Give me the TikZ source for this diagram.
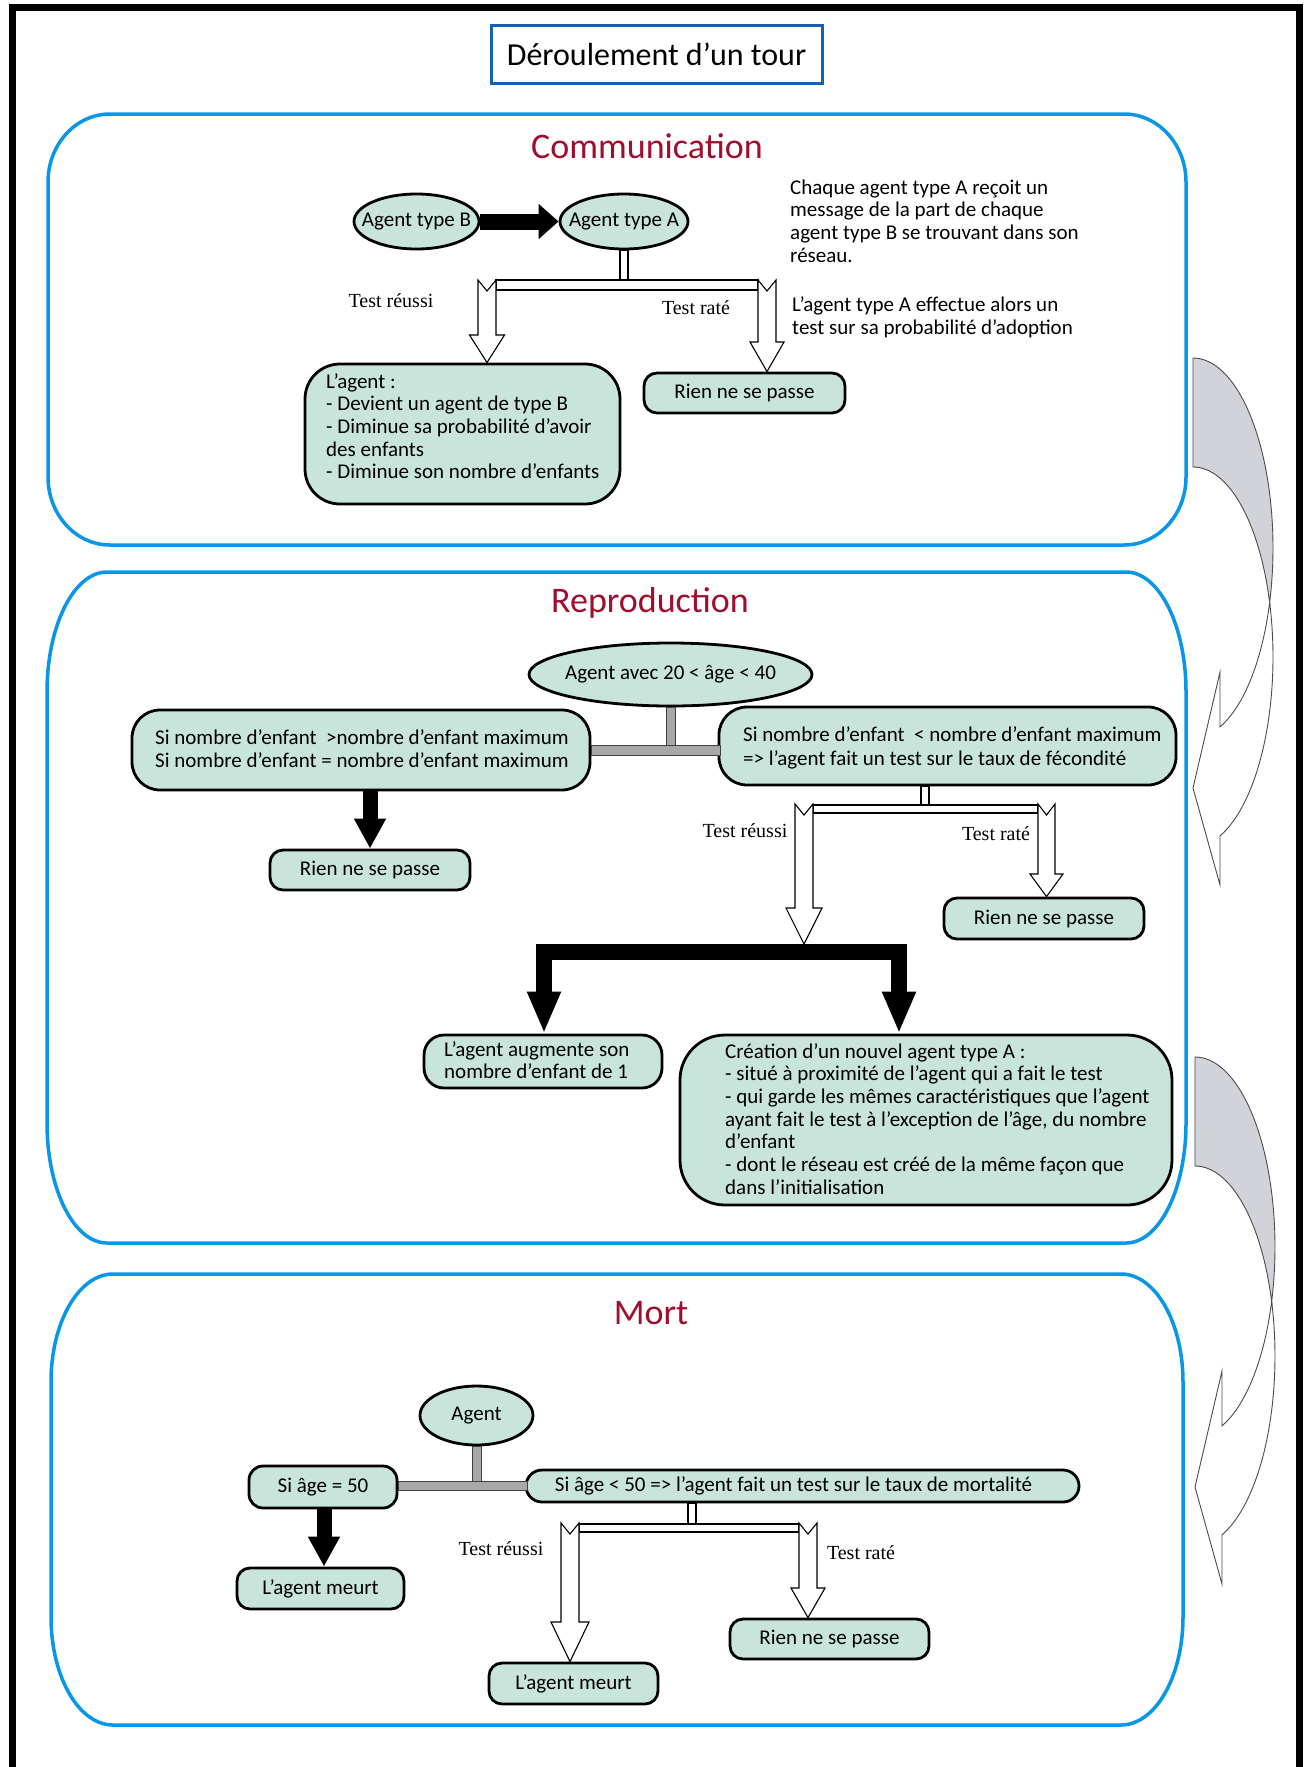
\documentclass[tikz,border=0pt]{standalone}
\usepackage{fontspec}
\setmainfont{Carlito}
\newfontfamily\serifont{Liberation Serif}
\usetikzlibrary{shapes.geometric,arrows.meta}
\definecolor{mint}{RGB}{201,228,219}
\definecolor{panelblue}{RGB}{8,150,232}
\definecolor{titleblue}{RGB}{22,96,175}
\definecolor{darkred}{RGB}{160,14,44}
\definecolor{curvgrey}{RGB}{210,210,218}
\definecolor{bargrey}{RGB}{168,168,168}
\newcommand\bodysize{\fontsize{21}{22.7}\selectfont}
% elliptical-cornered panel: x1 y1 x2 y2 rx ry
\newcommand\panelshape[6]{%
  \draw[panel] ({#1+#5},#2) -- ({#3-#5},#2)
    .. controls ({#3-0.4477*#5},#2) and (#3,{#2+0.4477*#6}) .. (#3,{#2+#6})
    -- (#3,{#4-#6})
    .. controls (#3,{#4-0.4477*#6}) and ({#3-0.4477*#5},#4) .. ({#3-#5},#4)
    -- ({#1+#5},#4)
    .. controls ({#1+0.4477*#5},#4) and (#1,{#4-0.4477*#6}) .. (#1,{#4-#6})
    -- (#1,{#2+#6})
    .. controls (#1,{#2+0.4477*#6}) and ({#1+0.4477*#5},#2) .. cycle;}
% hollow block arrow: cx, top, shaft half width, head start, head half width, tip target
\newcommand\hollowarrow[6]{%
  \draw[hollow] ({#1-#3},#2) -- (#1,{#2+11}) -- ({#1+#3},#2) -- ({#1+#3},#4)
    -- ({#1+#5},#4) -- (#1,0 |- #6) -- ({#1-#5},#4) -- ({#1-#3},#4) -- cycle;}
% curved left arrow: cx, yc
\newcommand\curvedarrow[2]{%
  \begin{scope}[shift={(#1,#2)}]
    \filldraw[curvfront] plot[variable=\t,domain=16.67:70.27,samples=30] ({80*cos(\t)},{190*sin(\t)})
      -- (27,124) -- (0,240) -- (27,337)
      -- plot[variable=\t,domain=70.27:-16.67,samples=40] ({80*cos(\t)},{109+190*sin(\t)}) -- cycle;
    \filldraw[curvback] plot[variable=\t,domain=-90:16.67,samples=40] ({80*cos(\t)},{190*sin(\t)})
      -- plot[variable=\t,domain=-16.67:-90,samples=40] ({80*cos(\t)},{109+190*sin(\t)}) -- cycle;
  \end{scope}}
\begin{document}
\begin{tikzpicture}[x=1pt,y=-1pt,
  box/.style={draw, fill=mint, line width=2.8pt, inner sep=0pt, font=\bodysize},
  ell/.style={ellipse, draw, fill=mint, line width=2.8pt, inner sep=0pt, font=\bodysize},
  txt/.style={inner sep=0pt, anchor=base west, align=left, font=\bodysize},
  lab/.style={inner sep=0pt, font=\fontsize{20}{24}\selectfont\serifont},
  sect/.style={inner sep=0pt, text=darkred, font=\fontsize{36}{40}\selectfont},
  titlebox/.style={draw=titleblue, line width=3pt, fill=white, inner sep=0pt, font=\fontsize{32}{36}\selectfont},
  hollow/.style={draw=black, fill=white, line width=1.1pt, line join=miter},
  hollowbar/.style={draw=black, fill=white, line width=1.1pt},
  graybar/.style={draw=black!75, fill=bargrey, line width=1pt},
  blackarr/.style={line width=15pt, line join=miter, -{Triangle[length=30pt,width=30pt]}},
  panel/.style={draw=panelblue, line width=3.5pt},
  curvfront/.style={draw=black!70, fill=white, line width=0.9pt},
  curvback/.style={draw=black!70, fill=curvgrey, line width=0.9pt}]
\useasboundingbox (0,0) rectangle (1309,1767);
\fill[white] (0,0) rectangle (1309,1767);
\draw[line width=7pt, line join=miter] (12,1800) -- (12,7) -- (1299,7) -- (1299,1800);

\node[titlebox, minimum width=331pt, minimum height=58pt] (title) at (656.5,54) {Déroulement d'un tour};

\panelshape{48}{114}{1186}{545}{62}{68}
\panelshape{47}{572}{1186}{1243}{60}{120}
\panelshape{51}{1274}{1183}{1725}{62}{108}

\node[sect] (tcomm) at (647,146) {Communication};
\node[sect] (trepro) at (650,603) {Reproduction};
\node[sect] (tmort) at (651,1313) {Mort};

% ---------- Communication (multi-line texts are placed by their last baseline)
\node[ell, minimum width=125pt, minimum height=55pt] (agentB) at (416.5,221.5) {\makebox[0pt]{Agent type B}};
\node[ell, minimum width=128pt, minimum height=55pt] (agentA) at (624,221.5) {\makebox[0pt]{Agent type A}};
\node[txt] (msg1) at (790,262.1) {Chaque agent type A reçoit un\\message de la part de chaque\\agent type B se trouvant dans son\\réseau.};
\node[txt, font=\fontsize{21}{23.6}\selectfont] (msg2) at (792,334.6) {L'agent type A effectue alors un\\test sur sa probabilité d'adoption};
\node[lab] (tr1) at (391,301) {Test réussi};
\node[lab] (tf1) at (696,308) {Test raté};
\node[box, rounded corners=35pt, minimum width=315pt, minimum height=140pt] (agentBox) at (462.5,434) {};
\node[txt] (agentBoxT) at (326,478.8) {L'agent :\\- Devient un agent de type B\\- Diminue sa probabilité d'avoir\\des enfants\\- Diminue son nombre d'enfants};
\node[box, rounded corners=13pt, minimum width=201pt, minimum height=40pt] (rien1) at (744.5,393) {Rien ne se passe};

% ---------- Reproduction
\node[ell, minimum width=283pt, minimum height=63pt] (agent2040) at (670.5,674.5) {\makebox[0pt]{Agent avec 20 < âge < 40}};
\node[box, rounded corners=28pt, minimum width=458pt, minimum height=80pt] (lbox) at (361,750) {};
\node[txt, font=\fontsize{21}{23.6}\selectfont] (lboxT) at (155,767.6) {Si nombre d'enfant \ >nombre d'enfant maximum\\Si nombre d'enfant = nombre d'enfant maximum};
\node[box, rounded corners=28pt, minimum width=457pt, minimum height=78pt] (rbox) at (947.5,746) {};
\node[txt, font=\fontsize{21}{23.6}\selectfont] (rboxT) at (743,765.2) {Si nombre d'enfant \ < nombre d'enfant maximum\\=> l'agent fait un test sur le taux de fécondité};
\node[box, rounded corners=13pt, minimum width=200pt, minimum height=40pt] (rien2) at (370,870) {Rien ne se passe};
\node[box, rounded corners=13pt, minimum width=200pt, minimum height=41pt] (rien3) at (1044,918.5) {Rien ne se passe};
\node[lab] (tr2) at (745,831) {Test réussi};
\node[lab] (tf2) at (996,834) {Test raté};
\node[box, rounded corners=20pt, minimum width=238pt, minimum height=53pt] (aug) at (543,1061.5) {};
\node[txt] (augT) at (444,1078.7) {L'agent augmente son\\nombre d'enfant de 1};
\node[box, rounded corners=45pt, minimum width=492pt, minimum height=170pt] (creation) at (926,1120) {};
\node[txt] (creationT) at (725,1194.2) {Création d'un nouvel agent type A :\\- situé à proximité de l'agent qui a fait le test\\- qui garde les mêmes caractéristiques que l'agent\\ayant fait le test à l'exception de l'âge, du nombre\\d'enfant\\- dont le réseau est créé de la même façon que\\dans l'initialisation};
\coordinate (brk) at (804,944);

% ---------- Mort
\node[ell, minimum width=113pt, minimum height=59pt] (agentM) at (476.5,1415.5) {\makebox[0pt]{Agent}};
\node[box, rounded corners=14pt, minimum width=148pt, minimum height=42pt] (si50) at (323,1487) {Si âge = 50};
\node[box, rounded corners=16pt, minimum width=553pt, minimum height=32pt] (silt50) at (802.5,1486) {Si âge < 50 => l'agent fait un test sur le taux de mortalité\hspace*{18pt}};
\node[box, rounded corners=13pt, minimum width=167pt, minimum height=41pt] (meurt1) at (320.5,1588.5) {L'agent meurt};
\node[box, rounded corners=13pt, minimum width=199pt, minimum height=40pt] (rien4) at (829.5,1639) {Rien ne se passe};
\node[box, rounded corners=13pt, minimum width=169pt, minimum height=41pt] (meurt2) at (573.5,1683.5) {L'agent meurt};
\node[lab] (tr3) at (501,1549) {Test réussi};
\node[lab] (tf3) at (861,1553) {Test raté};

% ---------- connectors: Communication
\draw[line width=16pt, -{Triangle[length=20pt,width=34pt]}] (agentB.east) -- (agentA.west);
\draw[hollowbar] (agentA.south) ++(-4,0) rectangle ++(8,31);
\draw[hollowbar] (496,280) rectangle (758,290);
\hollowarrow{487}{280}{9}{335}{17.5}{agentBox.north}
\hollowarrow{767}{280}{9}{342}{17}{rien1.north}

% ---------- connectors: Reproduction
\filldraw[graybar] (agent2040.south) ++(-4.5,0) rectangle ++(9,39);
\filldraw[graybar] (lbox.east) ++(0,-5) rectangle ++(129,10);
\draw[blackarr] (rien2.north |- lbox.south) -- (rien2.north);
\draw[hollowbar] (925,0 |- rbox.south) ++(-4,0) rectangle ++(8,20);
\draw[hollowbar] (813,805) rectangle (1038,813);
\hollowarrow{804}{804}{9}{908}{18}{brk}
\hollowarrow{1046.5}{804}{8.5}{874}{16.5}{rien3.north}
\draw[line width=16pt, line join=miter, {Triangle[length=42pt,width=31pt]}-{Triangle[length=42pt,width=31pt]}]
  (544,0 |- aug.north) -- (544,952) -- (899,952) -- (899,0 |- creation.north);

% ---------- connectors: Mort
\filldraw[graybar] (agentM.south) ++(-4.5,0) rectangle ++(9,36);
\filldraw[graybar] (si50.east) ++(0,-6) rectangle ++(129,9);
\draw[blackarr] (324,0 |- si50.south) -- (324,0 |- meurt1.north);
\draw[hollowbar] (692,0 |- silt50.south) ++(-4,0) rectangle ++(8,22);
\draw[hollowbar] (579,1524) rectangle (799,1532);
\hollowarrow{570}{1523}{9}{1622}{19}{meurt2.north}
\hollowarrow{808}{1523}{9}{1588}{17}{rien4.north}

% ---------- curved arrows between sections
\curvedarrow{1193}{548}
\curvedarrow{1195}{1247}
\end{tikzpicture}
\end{document}
